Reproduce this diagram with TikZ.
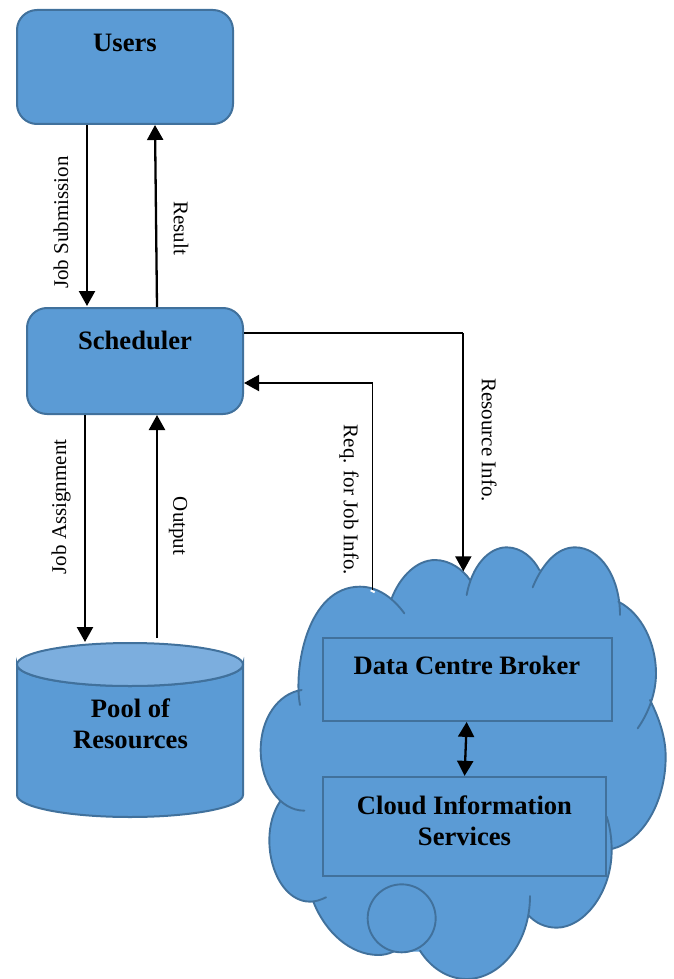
\documentclass[tikz,border=0pt]{standalone}
\usepackage{fontspec}
\setmainfont{Liberation Serif}
\usetikzlibrary{arrows.meta}
\definecolor{boxfill}{HTML}{5B9BD5}
\definecolor{boxline}{HTML}{41719C}
\definecolor{toplid}{HTML}{7CAEDE}
\tikzset{
  roundbox/.style={draw=boxline,fill=boxfill,line width=2pt,rounded corners=20pt,inner sep=0pt},
  flatbox/.style={draw=boxline,fill=boxfill,line width=2.2pt,inner sep=0pt},
  boldtext/.style={font=\fontsize{26.6}{31}\selectfont\bfseries,align=center,inner sep=0pt,text=black},
  edgetext/.style={font=\fontsize{21}{25}\selectfont,inner sep=0pt,text=black},
  heavy/.style={draw=black,line width=2.3pt,-{Triangle[length=15pt,width=16pt]}},
  thinline/.style={draw=black,line width=1.1pt},
  tipline/.style={draw=black,line width=2pt,-{Triangle[length=15pt,width=16pt]}},
  bothtip/.style={draw=black,line width=2.3pt,{Triangle[length=15pt,width=16pt]}-{Triangle[length=15pt,width=16pt]}},
}
\newcommand{\cloudlobes}{
  (150,525) .. controls (130,420) and (170,170) .. (330,170) .. controls (385,170) and (430,205) .. (463,250)
  (425,205) .. controls (450,140) and (500,90) .. (555,90) .. controls (600,90) and (640,120) .. (660,150)
  (650,195) .. controls (665,110) and (715,52) .. (770,52) .. controls (815,52) and (850,85) .. (868,120)
  (848,172) .. controls (880,95) and (925,52) .. (975,52) .. controls (1050,52) and (1110,140) .. (1110,255)
  (1105,215) .. controls (1175,250) and (1218,340) .. (1218,430) .. controls (1218,490) and (1195,550) .. (1163,595)
  (1200,510) .. controls (1230,570) and (1247,625) .. (1247,680) .. controls (1247,820) and (1175,935) .. (1085,957)
  (1070,860) .. controls (1080,890) and (1085,925) .. (1085,960) .. controls (1085,1090) and (1000,1193) .. (920,1193) .. controls (885,1193) and (855,1178) .. (835,1155)
  (840,1098) .. controls (840,1240) and (750,1347) .. (650,1347) .. controls (590,1347) and (540,1310) .. (510,1262)
  (430,1265) .. controls (415,1272) and (400,1275) .. (385,1275) .. controls (300,1275) and (225,1205) .. (190,1115)
  (228,1102) .. controls (212,1110) and (196,1115) .. (180,1115) .. controls (110,1115) and (58,1030) .. (58,930) .. controls (58,885) and (70,845) .. (90,815)
  (163,842) .. controls (90,842) and (32,760) .. (32,660) .. controls (32,565) and (85,490) .. (155,480)
}
\begin{document}
\begin{tikzpicture}[x=1pt,y=-1pt]
\useasboundingbox (0,0) rectangle (674,979);

% cloud
\begin{scope}[shift={(250,530)},x=0.33333pt,y=-0.33333pt]
  \fill[boxfill] \cloudlobes;
  \path[fill=boxfill,draw=boxfill,line width=1.6pt,line join=round] (155,480) -- (425,205) -- (660,150) -- (868,120) -- (1105,215) -- (1200,510) -- (1085,957) -- (835,1155) -- (510,1262) -- (430,1265) -- (190,1115) -- (90,815) -- cycle;
  \draw[boxline,line width=1.9pt,line cap=round] \cloudlobes;
  \draw[boxline,fill=boxfill,line width=1.9pt] (455,1165) circle (102);
  \coordinate (cloudtopa) at (368,181);
  \coordinate (cloudtopb) at (640,124);
\end{scope}

% boxes
\node[roundbox,minimum width=216pt,minimum height=114pt] (users) at (125,67) {};
\node[roundbox,minimum width=216pt,minimum height=106pt] (sched) at (135,361) {};
\node[flatbox,minimum width=289pt,minimum height=83pt] (broker) at (467.3,679.3) {};
\node[flatbox,minimum width=283pt,minimum height=98.7pt] (info) at (464.2,826.3) {};

% cylinder
\path[draw=boxline,fill=boxfill,line width=2pt] (17,664.5) -- (17,795) arc[start angle=180,end angle=360,x radius=113,y radius=-22] -- (243,664.5) arc[start angle=0,end angle=180,x radius=113,y radius=21.5] -- cycle;
\path[draw=boxline,fill=toplid,line width=2pt] (130,664.5) ellipse[x radius=113,y radius=21.5];
\coordinate (pooltopl) at (85,642);
\coordinate (pooltopr) at (157,638);

% box text
\node[boldtext] (userstext) at (125,43) {Users};
\node[boldtext] (schedtext) at (135,340) {Scheduler};
\node[boldtext] (pooltext) at (130.5,723.5) {Pool of\\Resources};
\node[boldtext] (brokertext) at (467,665) {Data Centre Broker};
\node[boldtext] (infotext) at (464.5,820.5) {Cloud Information\\Services};

% connectors
\draw[heavy] ([xshift=71pt]users.south west) -- ([xshift=61pt,yshift=1pt]sched.north west);
\draw[heavy] ([xshift=131pt]sched.north west) -- ([xshift=139pt]users.south west);
\draw[heavy] ([xshift=59pt]sched.south west) -- (pooltopl);
\draw[heavy] (pooltopr) -- ([xshift=131pt]sched.south west);

\coordinate (resstart) at ([yshift=-26pt]sched.north east);
\coordinate (rescorner) at (resstart -| cloudtopb);
\draw[thinline] (resstart) -- (rescorner);
\draw[tipline] (rescorner) -- (cloudtopb);

\coordinate (reqend) at ([yshift=32pt]sched.south east);
\coordinate (reqcorner) at (reqend -| cloudtopa);
\draw[thinline] (cloudtopa) -- (reqcorner);
\draw[tipline] (reqcorner) -- (reqend);
\draw[white,line width=2pt] ([xshift=-2pt]cloudtopa) -- ([xshift=2pt,yshift=-2pt]cloudtopa);

\draw[bothtip] ([xshift=145pt]broker.south west) -- ([xshift=143pt]info.north west);

% connector labels
\node[edgetext,rotate=90] (lab1) at (61,222.5) {Job Submission};
\node[edgetext,rotate=-90] (lab2) at (181,228) {Result};
\node[edgetext,rotate=90] (lab3) at (61,507) {Job Assignment};
\node[edgetext,rotate=-90] (lab4) at (178,526) {Output};
\node[edgetext,rotate=-90] (lab5) at (349,500) {Req. for Job Info.};
\node[edgetext,rotate=-90] (lab6) at (489,440) {Resource Info.};
\end{tikzpicture}
\end{document}
